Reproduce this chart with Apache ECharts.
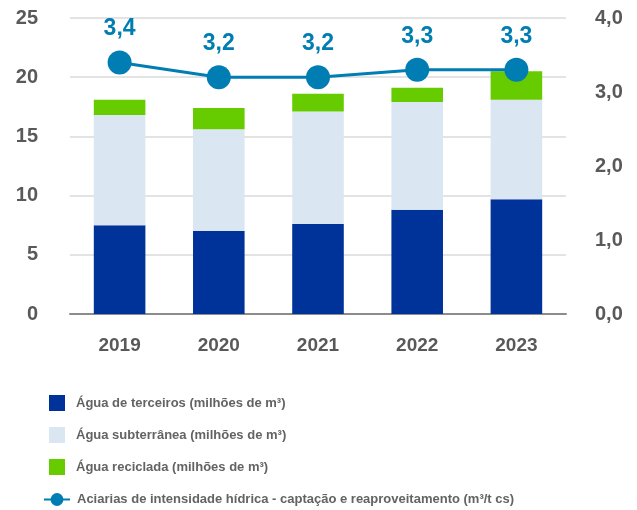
<!DOCTYPE html>
<html>
<head>
<meta charset="utf-8">
<script src="https://cdn.jsdelivr.net/npm/echarts@6/dist/echarts.min.js"></script>
<style>
    html, body { margin: 0; padding: 0; background: #fff; }
    #water_chart { width: 637px; height: 510px; }
</style>
</head>
<body>
<div id="water_chart"></div>
<script>
// Data
// ------------------------------

var years = ['2019', '2020', '2021', '2022', '2023'];
var aguaTerceiros = [7.5, 7.0, 7.6, 8.8, 9.7];
var aguaSubterranea = [9.3, 8.6, 9.5, 9.1, 8.4];
var aguaReciclada = [1.3, 1.8, 1.5, 1.2, 2.4];
var intensidade = [3.4, 3.2, 3.2, 3.3, 3.3];

var leftTicks = { min: 0, max: 25, interval: 5 };
var rightTicks = { min: 0, max: 4, interval: 1 };

var seriesNames = [
    'Água de terceiros (milhões de m³)',
    'Água subterrânea (milhões de m³)',
    'Água reciclada (milhões de m³)',
    'Aciarias de intensidade hídrica - captação e reaproveitamento (m³/t cs)'
];

var fontMain = '"Liberation Sans", Arial, sans-serif';

function comma(v) {
    return v.toFixed(1).replace('.', ',');
}

document.addEventListener('DOMContentLoaded', function() {
    var el = document.getElementById('water_chart');
    var chart = echarts.init(el);

    chart.setOption({
        animation: false,
        textStyle: { fontFamily: fontMain },
        grid: { left: 70, right: 71, top: 18, bottom: 196, containLabel: false },

        // Legend: bars in one block, line item below it
        legend: [
            {
                orient: 'vertical',
                left: 44,
                top: 390,
                itemWidth: 16,
                itemHeight: 16,
                itemGap: 16,
                icon: 'rect',
                data: seriesNames.slice(0, 3),
                textStyle: { fontFamily: fontMain, fontSize: 13, fontWeight: 'bold', color: '#636363', padding: [0, 0, 0, 6] }
            },
            {
                orient: 'vertical',
                left: 38,
                top: 488,
                itemWidth: 26,
                itemHeight: 16,
                data: [seriesNames[3]],
                textStyle: { fontFamily: fontMain, fontSize: 13, fontWeight: 'bold', color: '#636363', padding: [0, 0, 0, 2] }
            }
        ],
        xAxis: {
            type: 'category',
            data: years,
            axisTick: { show: false },
            axisLine: { lineStyle: { color: '#8c8c8c', width: 2 } },
            axisLabel: { margin: 22, fontSize: 19, fontWeight: 'bold', color: '#595959' }
        },
        yAxis: [
            {
                type: 'value',
                min: leftTicks.min,
                max: leftTicks.max,
                interval: leftTicks.interval,
                axisLine: { show: false },
                axisTick: { show: false },
                splitLine: { lineStyle: { color: '#e3e3e3', width: 2 } },
                axisLabel: { margin: 32, fontSize: 20, fontWeight: 'bold', color: '#595959' }
            },
            {
                type: 'value',
                min: rightTicks.min,
                max: rightTicks.max,
                interval: rightTicks.interval,
                axisLine: { show: false },
                axisTick: { show: false },
                splitLine: { show: false },
                axisLabel: {
                    margin: 29, fontSize: 20, fontWeight: 'bold', color: '#595959',
                    formatter: function(v) { return comma(v); }
                }
            }
        ],
        series: [
            {
                name: seriesNames[0],
                type: 'bar',
                stack: 'agua',
                barWidth: '52%',
                itemStyle: { color: '#003399' },
                data: aguaTerceiros
            },
            {
                name: seriesNames[1],
                type: 'bar',
                stack: 'agua',
                itemStyle: { color: '#dae7f3' },
                data: aguaSubterranea
            },
            {
                name: seriesNames[2],
                type: 'bar',
                stack: 'agua',
                itemStyle: { color: '#66cc00' },
                data: aguaReciclada
            },
            {
                name: seriesNames[3],
                type: 'line',
                yAxisIndex: 1,
                symbol: 'circle',
                symbolSize: 24,
                lineStyle: { color: '#007db3', width: 3 },
                itemStyle: { color: '#007db3' },
                label: {
                    show: true,
                    position: 'top',
                    distance: 10,
                    fontSize: 23,
                    fontWeight: 'bold',
                    color: '#007db3',
                    fontFamily: fontMain,
                    formatter: function(p) { return comma(p.value); }
                },
                data: intensidade
            }
        ]
    });
});
</script>
</body>
</html>
